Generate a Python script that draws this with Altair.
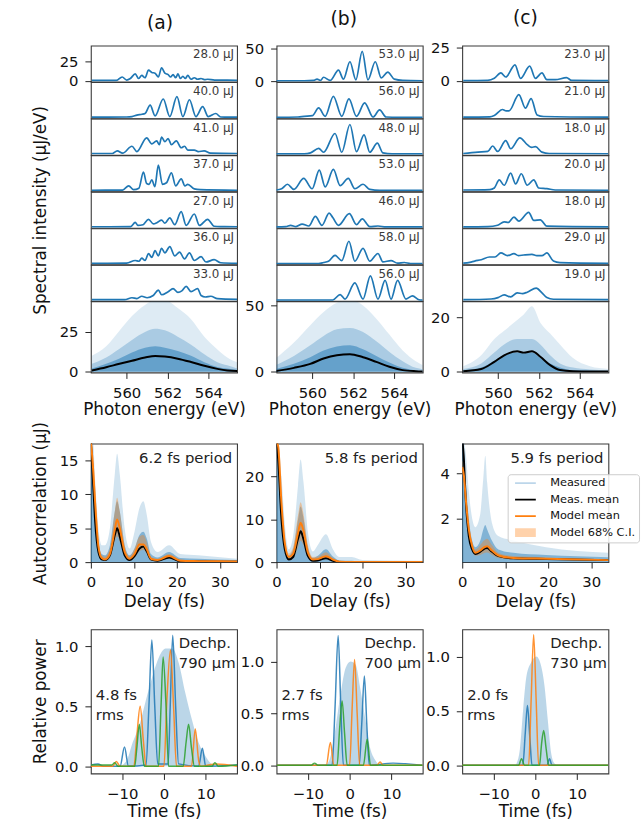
import altair as alt
import pandas as pd

# ---------------------------------------------------------------------------
# Single-shot spectra: (photon energy in eV, spectral intensity in uJ/eV)
# ---------------------------------------------------------------------------
SHOT_LABELS_A = ["28.0 μJ", "40.0 μJ", "41.0 μJ", "37.0 μJ", "27.0 μJ", "36.0 μJ", "33.0 μJ"]
SHOT_LABELS_B = ["53.0 μJ", "56.0 μJ", "48.0 μJ", "53.0 μJ", "46.0 μJ", "58.0 μJ", "56.0 μJ"]
SHOT_LABELS_C = ["23.0 μJ", "21.0 μJ", "18.0 μJ", "20.0 μJ", "18.0 μJ", "29.0 μJ", "19.0 μJ"]

spec_a1 = [(558.3, 0.5), (559.5, 0.5), (559.78, 5), (560.0, 1), (560.18, 3), (560.42, 9), (560.58, 3),
           (560.74, 7), (560.9, 4), (561.07, 14), (561.23, 11), (561.39, 10), (561.55, 5), (561.71, 17),
           (561.87, 10), (562.03, 8), (562.15, 5), (562.27, 8), (562.4, 4), (562.51, 9), (562.63, 3),
           (562.75, 6), (562.87, 3), (562.99, 7), (563.15, 2), (563.31, 4), (563.47, 2), (563.64, 3),
           (563.8, 1.5), (563.96, 2), (564.3, 1), (564.92, 1), (565.4, 0.5)]
spec_a2 = [(558.3, 0.3), (560.0, 0.5), (560.26, 1), (560.5, 3), (560.75, 4), (560.9, 5), (561.15, 16),
           (561.39, 2), (561.79, 24), (562.11, 1), (562.46, 27), (562.75, 1), (563.07, 23), (563.39, 1),
           (563.72, 14), (563.99, 1), (564.36, 5), (564.6, 0.5), (565.4, 0.3)]
spec_a3 = [(558.3, 0.5), (559.3, 0.5), (559.54, 4), (559.8, 1), (560.26, 10), (560.5, 3), (560.98, 21),
           (561.23, 13), (561.47, 17), (561.6, 12), (561.71, 22), (561.87, 16), (562.03, 20), (562.19, 12),
           (562.43, 17), (562.67, 8), (562.83, 10), (562.99, 5), (563.31, 5), (563.5, 3), (563.79, 4),
           (564.1, 1), (565.4, 0.5)]
spec_a4 = [(558.3, 0.3), (559.8, 0.5), (560.1, 6), (560.34, 1), (560.6, 3), (560.82, 24), (560.98, 9),
           (561.1, 8), (561.23, 14), (561.38, 5), (561.55, 33), (561.75, 8), (561.95, 10), (562.19, 23),
           (562.4, 6), (562.67, 15), (562.85, 6), (562.99, 8), (563.31, 2), (563.6, 1), (565.4, 0.3)]
spec_a5 = [(558.3, 0.3), (560.2, 0.5), (560.42, 6), (560.55, 2), (560.8, 3), (561.07, 10), (561.31, 4),
           (561.5, 6), (561.71, 9), (561.87, 5), (562.11, 12), (562.35, 3), (562.67, 20), (562.91, 2),
           (563.31, 17), (563.56, 2), (563.96, 10), (564.28, 1), (564.6, 0.5), (565.4, 0.3)]
spec_a6 = [(558.3, 0.3), (560.0, 0.5), (560.42, 4), (560.6, 3), (560.74, 7), (560.9, 4), (561.07, 13),
           (561.23, 8), (561.39, 17), (561.55, 10), (561.71, 20), (561.87, 14), (562.11, 22), (562.35, 10),
           (562.59, 15), (562.83, 6), (563.07, 14), (563.31, 4), (563.64, 9), (563.88, 2), (564.28, 5),
           (564.6, 1), (565.4, 0.3)]
spec_a7 = [(558.3, 0.5), (559.9, 0.5), (560.26, 3), (560.5, 2), (560.74, 5), (561.0, 3), (561.3, 6),
           (561.55, 13), (561.71, 7), (562.03, 11), (562.27, 15), (562.51, 10), (562.7, 12), (562.91, 18),
           (563.15, 11), (563.47, 15), (563.64, 6), (563.85, 4), (564.12, 5), (564.44, 2), (565.4, 1)]

spec_b1 = [(558.2, 0.5), (559.6, 0.5), (560.07, 1), (560.23, 3), (560.4, 1), (560.55, 6), (560.87, 1),
           (561.28, 17), (561.52, 3), (561.84, 30), (562.13, 2), (562.44, 46), (562.72, 2), (563.08, 30),
           (563.37, 5), (563.69, 14), (564.01, 3), (564.42, 1), (565.4, 0.5)]
spec_b2 = [(558.2, 0.5), (559.3, 1), (559.6, 2), (560.0, 3), (560.31, 15), (560.63, 2), (561.03, 33),
           (561.44, 2), (561.79, 29), (562.16, 2), (562.56, 23), (562.97, 1), (563.29, 12), (563.61, 1),
           (564.2, 0.5), (565.4, 0.5)]
spec_b3 = [(558.2, 0.5), (559.6, 0.5), (559.91, 2), (560.31, 9), (560.55, 3), (561.11, 32), (561.44, 3),
           (561.84, 46), (562.16, 4), (562.53, 30), (562.81, 3), (563.18, 17), (563.45, 2), (563.9, 0.5),
           (565.4, 0.5)]
spec_b4 = [(558.2, 1), (558.5, 3), (558.78, 10), (559.1, 2), (559.58, 19), (559.99, 3), (560.34, 32),
           (560.63, 6), (561.03, 33), (561.36, 8), (561.76, 19), (562.08, 3), (562.48, 10), (562.81, 2),
           (563.3, 0.5), (565.4, 0.5)]
spec_b5 = [(558.2, 0.5), (558.7, 1), (558.94, 3), (559.2, 1), (559.5, 5), (559.83, 2), (560.15, 17),
           (560.47, 3), (560.82, 22), (561.0, 15), (561.28, 3), (561.81, 21), (562.16, 4), (562.44, 13),
           (562.81, 1), (563.21, 2), (563.6, 0.5), (565.4, 0.5)]
spec_b6 = [(558.2, 0.5), (560.3, 0.5), (560.55, 2), (560.79, 4), (561.11, 13), (561.44, 5), (561.79, 35),
           (562.08, 4), (562.48, 24), (562.81, 4), (563.21, 16), (563.45, 3), (563.85, 5), (564.17, 1),
           (564.5, 2), (564.8, 0.5), (565.4, 0.5)]
spec_b7 = [(558.2, 0.5), (561.0, 0.5), (561.36, 9), (561.6, 2), (562.08, 27), (562.48, 2), (562.84, 38),
           (563.21, 2), (563.56, 31), (563.85, 2), (564.17, 31), (564.58, 2), (564.9, 7), (565.22, 1),
           (565.4, 0.5)]

spec_c1 = [(558.3, 0.3), (559.5, 0.5), (559.82, 2), (560.14, 6), (560.38, 3), (560.83, 12), (561.1, 2),
           (561.55, 11), (561.83, 2), (562.15, 6), (562.39, 1), (562.8, 1), (563.35, 2.5), (563.6, 0.5),
           (565.4, 0.3)]
spec_c2 = [(558.3, 0.3), (559.6, 0.5), (559.82, 1.5), (560.22, 6), (560.4, 5), (560.54, 5), (561.02, 17),
           (561.34, 7), (561.62, 14), (561.91, 2), (562.23, 0.8), (565.4, 0.3)]
spec_c3 = [(558.3, 0.5), (559.02, 1.5), (559.5, 2), (559.74, 6), (559.98, 2), (560.38, 10), (560.62, 4),
           (561.07, 12), (561.43, 7), (561.65, 5), (561.83, 5.5), (562.15, 1.5), (562.5, 0.5), (565.4, 0.3)]
spec_c4 = [(558.3, 0.5), (559.6, 0.8), (559.82, 2), (560.06, 8), (560.3, 4), (560.62, 13), (560.86, 5),
           (561.14, 12.5), (561.43, 4), (561.75, 8), (561.99, 2), (562.39, 1.5), (562.8, 0.5), (565.4, 0.3)]
spec_c5 = [(558.3, 0.3), (559.5, 0.5), (559.98, 1.5), (560.3, 4), (560.5, 3.5), (560.78, 7.5), (561.02, 4.5),
           (561.5, 11), (561.75, 5), (562.07, 5.5), (562.39, 0.8), (565.4, 0.3)]
spec_c6 = [(558.3, 0.5), (558.62, 1), (558.86, 2), (559.18, 3), (559.58, 5), (559.85, 5), (560.14, 8),
           (560.46, 6), (560.78, 7.5), (561.0, 6), (561.26, 6.5), (561.66, 7), (561.9, 6), (562.15, 6),
           (562.39, 8), (562.71, 2), (563.03, 0.8), (565.4, 0.3)]
spec_c7 = [(558.3, 0.5), (559.66, 1), (560.0, 2), (560.3, 4), (560.62, 2.5), (560.94, 5.5), (561.2, 5),
           (561.43, 6), (561.87, 9), (562.15, 5.5), (562.39, 2), (562.71, 0.8), (565.4, 0.5)]

# Ensemble of all shots: outer envelope, inner envelopes and mean spectrum
ens_a_energy = [558.3, 559.0, 559.6, 560.26, 560.9, 561.4, 561.87, 562.5, 563.15, 563.8, 564.44, 564.92, 565.4]
ens_a_max = [10, 16, 25, 35, 42, 45, 45, 40, 33, 22, 14, 9, 6]
ens_a_mid = [5, 9, 14, 20, 25, 27, 26, 22, 17, 11, 6, 4, 2]
ens_a_core = [2, 5, 8, 12, 15, 16, 15, 13, 10, 6, 3, 2, 1]
ens_a_mean = [0.8, 2.8, 4.8, 6.9, 8.9, 9.9, 9.5, 8.2, 6.1, 3.7, 1.8, 0.8, 0.4]

ens_b_energy = [558.2, 559.1, 559.9, 560.55, 561.2, 561.84, 562.48, 563.13, 563.77, 564.42, 565.06, 565.4]
ens_b_max = [10, 22, 35, 45, 52, 54, 50, 40, 28, 16, 8, 5]
ens_b_mid = [5, 12, 20, 27, 32, 33, 30, 23, 15, 8, 3, 2]
ens_b_core = [2, 6, 11, 16, 19, 20, 17, 12, 7, 3, 1, 0.5]
ens_b_mean = [0.5, 3, 6, 10, 12.5, 13.3, 11, 7.5, 3.8, 1.3, 0.5, 0.3]

ens_c_energy = [558.3, 559.18, 559.82, 560.3, 560.94, 561.26, 561.66, 562.07, 562.55, 563.03, 563.67, 564.5, 565.4]
ens_c_max = [2, 6, 12, 15, 19, 21, 24, 18, 14, 10, 5, 2, 1]
ens_c_mid = [1, 3, 7, 10, 12, 12, 12, 10, 6, 3, 1.5, 0.8, 0.5]
ens_c_core = [0.5, 1.5, 4, 6, 7, 7, 7, 5, 3, 1.5, 0.5, 0.3, 0.2]
ens_c_mean = [0.2, 1.0, 3.6, 6.0, 7.5, 7.0, 7.5, 5.5, 2.4, 0.6, 0.2, 0.1, 0.1]

# ---------------------------------------------------------------------------
# Autocorrelation vs delay (fs), in uJ
# ---------------------------------------------------------------------------
ac_a_delay = [0, 0.5, 1.0, 1.76, 2.52, 3.28, 4.43, 5.57, 6.1, 6.72, 7.86, 9.0, 10.15, 11.3, 12.2, 13.0,
              13.97, 15.5, 18.2, 20.8, 25, 34]
ac_a_meas_max = [18, 18, 12, 5, 2.5, 2.5, 5, 13, 16, 13, 5, 2, 4.5, 8, 9, 7, 3, 1.5, 2.5, 1.2, 1.0, 0.5]
ac_a_meas_core = [18, 15, 9, 3, 1.2, 1.0, 2.5, 7.5, 9, 7.5, 2.5, 1.0, 2, 4, 4.5, 3.5, 1.2, 0.7, 1.5, 0.6, 0.5, 0.3]
ac_a_ci_lo = [17, 12, 6.5, 1.5, 0.3, 0.2, 0.6, 3.0, 3.8, 3.0, 0.8, 0.2, 0.6, 1.6, 1.8, 1.3, 0.2, 0.1, 0.5, 0.05, 0.05, 0]
ac_a_ci_hi = [18, 16, 11, 3.5, 1.0, 0.8, 2.0, 7.5, 9.5, 7.5, 2.5, 0.9, 2.0, 3.8, 4.0, 3.0, 0.8, 0.5, 1.2, 0.4, 0.2, 0.1]
ac_a_meas_mean = [18, 12, 6, 1.5, 0.4, 0.3, 1.0, 4.0, 5.0, 3.8, 1.0, 0.3, 0.9, 2.0, 2.3, 1.6, 0.4, 0.2, 0.7, 0.15, 0.1, 0.05]
ac_a_model_mean = [18, 14, 8.7, 2.3, 0.6, 0.4, 1.2, 4.8, 6.3, 5.0, 1.5, 0.5, 1.2, 2.6, 2.6, 1.9, 0.5, 0.3, 0.9, 0.2, 0.15, 0.1]

ac_b_delay = [0, 0.38, 1.15, 1.92, 2.85, 3.85, 5.0, 5.6, 6.23, 7.3, 8.46, 9.6, 11.5, 13.1, 14.6, 17.5, 20, 34]
ac_b_meas_max = [28, 28, 20, 9, 3, 6, 18, 24, 19, 7, 2.5, 4, 6.5, 3, 1.2, 1.2, 0.5, 0.3]
ac_b_meas_core = [28, 26, 14, 5, 1.5, 3, 10, 13, 10.5, 3.5, 1.0, 1.5, 3, 1.3, 0.4, 0.3, 0.1, 0.1]
ac_b_ci_lo = [27, 25, 11, 3, 0.5, 0.9, 3.5, 5, 4, 1.0, 0.2, 0.3, 0.8, 0.2, 0.02, 0.02, 0.02, 0]
ac_b_ci_hi = [28, 28, 16, 6, 2, 3.5, 11, 14, 11.5, 4, 1.2, 1.3, 2.3, 1.0, 0.3, 0.1, 0.1, 0.05]
ac_b_meas_mean = [28, 24, 10, 3, 0.6, 1.2, 5.5, 7.2, 5.5, 1.4, 0.3, 0.4, 0.9, 0.3, 0.05, 0.03, 0.02, 0.02]
ac_b_model_mean = [28, 27, 13.7, 4.5, 1.2, 1.9, 6.8, 9.2, 7.5, 2.2, 0.6, 0.7, 1.4, 0.6, 0.1, 0.05, 0.05, 0.02]

ac_c_delay = [0, 0.4, 0.77, 1.53, 2.3, 3.06, 4.2, 4.9, 5.36, 5.8, 6.9, 8.4, 11.9, 19.5, 34]
ac_c_meas_max = [5.4, 5.4, 5.0, 3.2, 2.0, 1.6, 2.2, 3.8, 4.8, 3.6, 1.8, 1.2, 1.0, 0.7, 0.45]
ac_c_meas_core = [5.4, 5.0, 3.8, 2.0, 1.0, 0.7, 1.0, 1.5, 1.7, 1.5, 1.0, 0.6, 0.45, 0.35, 0.25]
ac_c_ci_lo = [4.0, 3.5, 2.6, 1.2, 0.55, 0.32, 0.35, 0.42, 0.45, 0.46, 0.35, 0.22, 0.15, 0.13, 0.08]
ac_c_ci_hi = [4.6, 4.3, 3.4, 1.8, 0.95, 0.6, 0.8, 0.98, 1.05, 1.08, 0.8, 0.45, 0.3, 0.24, 0.17]
ac_c_meas_mean = [5.6, 4.6, 3.0, 1.2, 0.6, 0.4, 0.5, 0.6, 0.65, 0.66, 0.5, 0.3, 0.2, 0.17, 0.12]
ac_c_model_mean = [4.3, 3.9, 3.0, 1.5, 0.75, 0.45, 0.55, 0.67, 0.72, 0.74, 0.55, 0.33, 0.22, 0.18, 0.12]

PERIOD_NOTES = ["6.2 fs period", "5.8 fs period", "5.9 fs period"]
LEGEND_SERIES = ["Measured", "Meas. mean", "Model mean", "Model 68% C.I."]

# ---------------------------------------------------------------------------
# Temporal power profiles: (time in fs, relative power)
# ---------------------------------------------------------------------------
pulse_a_band = [(-17.5, 0), (-11, 0), (-9.06, 0.04), (-7.48, 0.2), (-5.9, 0.34), (-4.33, 0.55), (-2.76, 0.75),
                (-1.18, 0.91), (0.39, 0.98), (1.97, 0.98), (3.54, 0.86), (5.12, 0.61), (6.69, 0.39),
                (8.27, 0.2), (9.84, 0.09), (11.4, 0.02), (13, 0), (17.5, 0)]
pulse_a_blue = [(-17.5, 0.01), (-15.8, 0.02), (-14.5, 0.0), (-10.5, 0.0), (-9.45, 0.16), (-8.5, 0.0),
                (-4.3, 0.01), (-3.6, 0.5), (-2.9, 1.05), (-2.2, 0.5), (-1.5, 0.02), (1.0, 0.02), (1.5, 0.5),
                (2.1, 1.09), (2.8, 0.5), (3.5, 0.02), (8.3, 0.0), (9.2, 0.15), (10.0, 0.0), (17.5, 0.01)]
pulse_a_orange = [(-17.5, 0), (-12.3, 0), (-11.4, 0.04), (-10.5, 0), (-7.2, 0.0), (-6.5, 0.25), (-5.7, 0.5),
                  (-4.9, 0.2), (-4.3, 0.0), (0.0, 0.0), (0.7, 0.55), (1.57, 0.97), (2.3, 0.5), (3.0, 0.0),
                  (6.6, 0.0), (7.5, 0.31), (8.3, 0.05), (8.8, 0.0), (12.5, 0.02), (17.5, 0)]
pulse_a_green = [(-17.5, 0.01), (-12.5, 0.01), (-11.8, 0.03), (-11.0, 0.0), (-7.0, 0.0), (-6.5, 0.15),
                 (-5.9, 0.35), (-5.3, 0.15), (-4.7, 0.0), (-1.3, 0.0), (-0.7, 0.5), (-0.2, 0.91), (0.5, 0.5),
                 (1.1, 0.0), (4.6, 0.0), (5.3, 0.2), (5.9, 0.35), (6.6, 0.15), (7.3, 0.0), (11.5, 0.0),
                 (12.2, 0.03), (13, 0.0), (17.5, 0.01)]

pulse_b_band = [(-17.5, 0), (-6.5, 0), (-5.25, 0.02), (-4.47, 0.1), (-3.29, 0.38), (-2.12, 0.7), (-0.94, 0.94),
                (0.24, 1.0), (1.41, 0.97), (2.59, 0.73), (3.76, 0.44), (4.94, 0.16), (6.12, 0.05), (7.3, 0),
                (17.5, 0)]
pulse_b_blue = [(-17.5, 0), (-4.2, 0), (-3.5, 0.55), (-2.75, 1.25), (-2.1, 0.55), (-1.5, 0.0), (2.3, 0.0),
                (2.9, 0.4), (3.53, 0.86), (4.1, 0.4), (4.7, 0.0), (10.4, 0.02), (17.5, 0)]
pulse_b_orange = [(-17.5, 0), (-5.6, 0), (-4.6, 0.22), (-3.8, 0.0), (0.0, 0.0), (0.6, 0.55), (1.18, 1.02),
                  (1.8, 0.5), (2.4, 0.0), (6.5, 0.0), (7.3, 0.03), (8.0, 0), (17.5, 0)]
pulse_b_green = [(-17.5, 0), (-9.2, 0), (-8.4, 0.02), (-7.6, 0), (-3.0, 0.0), (-2.4, 0.35), (-1.8, 0.62),
                 (-1.2, 0.3), (-0.6, 0.0), (3.3, 0.0), (4.2, 0.25), (5.0, 0.0), (17.5, 0)]

pulse_c_band = [(-17.5, 0), (-5, 0), (-4.47, 0.02), (-3.69, 0.15), (-2.9, 0.52), (-2.12, 0.82), (-0.94, 0.95),
                (0.24, 1.0), (1.41, 0.91), (2.2, 0.73), (2.98, 0.42), (3.76, 0.12), (4.55, 0.02), (5.5, 0),
                (17.5, 0)]
pulse_c_blue = [(-17.5, 0), (-3.0, 0), (-2.4, 0.3), (-1.88, 0.55), (-1.3, 0.25), (-0.8, 0.0), (2.8, 0.0),
                (3.4, 0.06), (4.0, 0), (17.5, 0)]
pulse_c_orange = [(-17.5, 0), (-1.6, 0), (-1.0, 0.6), (-0.4, 1.2), (0.2, 0.6), (0.8, 0.0), (17.5, 0)]
pulse_c_green = [(-17.5, 0), (-4.0, 0), (-3.3, 0.06), (-2.6, 0), (1.0, 0), (1.5, 0.2), (2.0, 0.32),
                 (2.6, 0.15), (3.2, 0.0), (17.5, 0)]

RMS_NOTES = ["4.8 fs\nrms", "2.7 fs\nrms", "2.0 fs\nrms"]
DECHIRP_NOTES = ["Dechp.\n790 μm", "Dechp.\n700 μm", "Dechp.\n730 μm"]

# ---------------------------------------------------------------------------
# Styling
# ---------------------------------------------------------------------------
FONT = "DejaVu Sans"
BLUE = "#1f77b4"
ORANGE = "#ff7f0e"
GREEN = "#2ca02c"
INK = "#111111"
W = 148
SMALL_H = 36.6
ENS_H = 72
AC_H = 120
TP_H = 146
GAP_1 = 72
GAP_2 = 68
TITLE_X = -42
E_DOM = [558.25, 565.4]


def note(text, x, y, align, size, color="#222222"):
    return alt.Chart(pd.DataFrame({"label": [text]})).mark_text(
        align=align, baseline="top", font=FONT, fontSize=size, color=color,
        lineBreak="\n", lineHeight=20,
    ).encode(x=alt.value(x), y=alt.value(y), text="label:N")


def spacer(h):
    return alt.Chart(pd.DataFrame({"label": [""]})).mark_text().encode(
        text="label:N"
    ).properties(width=W, height=h, view=alt.ViewBackground(stroke="transparent"))


def shot_panel(pts, label, ydom, yticks=None, ytitle=None, head=None, dx=0):
    df = pd.DataFrame(pts, columns=["E", "I"])
    if yticks is not None:
        yaxis = alt.Axis(values=yticks, title=None)
    elif ytitle is not None:
        yaxis = alt.Axis(labels=False, ticks=False, title=ytitle, titleX=TITLE_X)
    else:
        yaxis = None
    line = alt.Chart(df).mark_line(
        color=BLUE, strokeWidth=1.7, interpolate="monotone", clip=True
    ).encode(
        x=alt.X("E:Q", scale=alt.Scale(domain=E_DOM, nice=False, zero=False), axis=None),
        y=alt.Y("I:Q", scale=alt.Scale(domain=ydom, nice=False, zero=False), axis=yaxis),
    )
    chart = alt.layer(line, note(label, W - 3, 4, "right", 12, "#3a3a3a")).properties(
        width=W, height=SMALL_H)
    if head:
        chart = chart.properties(title=alt.TitleParams(head, anchor="middle", dx=dx))
    return chart


def ensemble_panel(energy, vmax, vmid, vcore, vmean, ydom, yticks):
    df = pd.DataFrame({"E": energy, "vmax": vmax, "vmid": vmid, "vcore": vcore, "vmean": vmean})
    x = alt.X("E:Q", scale=alt.Scale(domain=E_DOM, nice=False, zero=False),
              axis=alt.Axis(values=[560, 562, 564], title="Photon energy (eV)"))
    ysc = alt.Scale(domain=ydom, nice=False, zero=False)
    yax = alt.Axis(values=yticks, title=None)
    base = alt.Chart(df)
    layers = []
    for field, op in (("vmax", 0.15), ("vmid", 0.27), ("vcore", 0.5)):
        layers.append(base.mark_area(color=BLUE, opacity=op, interpolate="monotone", clip=True).encode(
            x=x, y=alt.Y(f"{field}:Q", scale=ysc, axis=yax), y2=alt.datum(0)))
    layers.append(base.mark_line(color="black", strokeWidth=2, interpolate="monotone", clip=True).encode(
        x=x, y=alt.Y("vmean:Q", scale=ysc, axis=yax)))
    return alt.layer(*layers).properties(width=W, height=ENS_H)


def autocorr_panel(delay, mmax, mcore, lo, hi, mmean, model, ydom, yticks, period, ytitle=None, legend=False):
    df = pd.DataFrame({"t": delay, "mmax": mmax, "mcore": mcore, "lo": lo, "hi": hi})
    x = alt.X("t:Q", scale=alt.Scale(domain=[0, 34], nice=False, zero=False),
              axis=alt.Axis(values=[0, 10, 20, 30], title="Delay (fs)", titlePadding=4))
    ysc = alt.Scale(domain=ydom, nice=False, zero=False)
    if ytitle:
        yax = alt.Axis(values=yticks, title=ytitle, titleX=TITLE_X)
    else:
        yax = alt.Axis(values=yticks, title=None)
    base = alt.Chart(df)
    layers = [
        base.mark_area(color=BLUE, opacity=0.2, interpolate="monotone", clip=True).encode(
            x=x, y=alt.Y("mmax:Q", scale=ysc, axis=yax), y2=alt.datum(0)),
        base.mark_area(color=BLUE, opacity=0.45, interpolate="monotone", clip=True).encode(
            x=x, y=alt.Y("mcore:Q", scale=ysc, axis=yax), y2=alt.datum(0)),
        base.mark_area(color=ORANGE, opacity=0.35, interpolate="monotone", clip=True).encode(
            x=x, y=alt.Y("hi:Q", scale=ysc, axis=yax), y2="lo:Q"),
    ]
    leg = None
    if legend:
        leg = alt.Legend(
            title=None, orient="none", legendX=46, legendY=31,
            fillColor="rgba(255,255,255,0.85)", strokeColor="#cccccc", cornerRadius=3, padding=3,
            symbolType="stroke", symbolSize=441, clipHeight=12, rowPadding=4.7, labelOffset=10,
            labelFont=FONT, labelFontSize=11.5, labelColor=INK,
        )
    cscale = alt.Scale(domain=LEGEND_SERIES, range=["#bcd6ea", "black", ORANGE, "#ffd2ab"])
    wscale = alt.Scale(type="ordinal", domain=LEGEND_SERIES, range=[2, 2, 2, 9])
    for values, name in ((mmean, "Meas. mean"), (model, "Model mean")):
        ldf = pd.DataFrame({"t": delay, "v": values, "series": name})
        layers.append(alt.Chart(ldf).mark_line(interpolate="monotone", clip=True).encode(
            x=x, y=alt.Y("v:Q", scale=ysc, axis=yax),
            color=alt.Color("series:N", scale=cscale, legend=leg),
            strokeWidth=alt.StrokeWidth("series:N", scale=wscale, legend=leg),
        ))
    layers.append(note(period, W - 5, 8, "right", 15))
    return alt.layer(*layers).properties(width=W, height=AC_H)


def pulse_panel(band, blue, orange, green, ydom, rms, dechirp, ytitle=None):
    x = alt.X("t:Q", scale=alt.Scale(domain=[-17.5, 17.5], nice=False, zero=False),
              axis=alt.Axis(values=[-10, 0, 10], title="Time (fs)", titlePadding=3))
    ysc = alt.Scale(domain=ydom, nice=False, zero=False)
    if ytitle:
        yax = alt.Axis(values=[0, 0.5, 1.0], format=".1f", title=ytitle, titleX=TITLE_X)
    else:
        yax = alt.Axis(values=[0, 0.5, 1.0], format=".1f", title=None)
    layers = [alt.Chart(pd.DataFrame(band, columns=["t", "p"])).mark_area(
        color=BLUE, opacity=0.3, interpolate="monotone", clip=True).encode(
        x=x, y=alt.Y("p:Q", scale=ysc, axis=yax), y2=alt.datum(0))]
    for pts, col in ((blue, BLUE), (orange, ORANGE), (green, GREEN)):
        layers.append(alt.Chart(pd.DataFrame(pts, columns=["t", "p"])).mark_line(
            color=col, strokeWidth=1.5, opacity=0.85, interpolate="monotone", clip=True).encode(
            x=x, y=alt.Y("p:Q", scale=ysc, axis=yax)))
    layers.append(note(dechirp, 89, 7, "left", 15))
    layers.append(note(rms, 5, 60, "left", 15))
    return alt.layer(*layers).properties(width=W, height=TP_H)


def column(head, dx, shots, labels, ydom_shot, ticks_shot, ensemble, ydom_ens, ticks_ens,
           ac_panel, pulse, with_titles):
    cells = []
    for i, (pts, lab) in enumerate(zip(shots, labels)):
        cells.append(shot_panel(
            pts, lab, ydom_shot,
            yticks=ticks_shot if i == 0 else None,
            ytitle="Spectral intensity (μJ/eV)" if (with_titles and i == 4) else None,
            head=head if i == 0 else None, dx=dx,
        ))
    cells.append(ensemble_panel(*ensemble, ydom_ens, ticks_ens))
    cells.append(spacer(GAP_1))
    cells.append(ac_panel)
    cells.append(spacer(GAP_2))
    cells.append(pulse)
    return cells


col_a = column(
    "(a)", -4,
    [spec_a1, spec_a2, spec_a3, spec_a4, spec_a5, spec_a6, spec_a7], SHOT_LABELS_A,
    [-1.2, 46], [0, 25],
    (ens_a_energy, ens_a_max, ens_a_mid, ens_a_core, ens_a_mean), [-0.5, 44.2], [0, 25],
    autocorr_panel(ac_a_delay, ac_a_meas_max, ac_a_meas_core, ac_a_ci_lo, ac_a_ci_hi,
                   ac_a_meas_mean, ac_a_model_mean, [0, 17.5], [0, 5, 10, 15], PERIOD_NOTES[0],
                   ytitle="Autocorrelation (μJ)"),
    pulse_panel(pulse_a_band, pulse_a_blue, pulse_a_orange, pulse_a_green, [-0.06, 1.14],
                RMS_NOTES[0], DECHIRP_NOTES[0], ytitle="Relative power"),
    True,
)
col_b = column(
    "(b)", -6,
    [spec_b1, spec_b2, spec_b3, spec_b4, spec_b5, spec_b6, spec_b7], SHOT_LABELS_B,
    [-1, 55], [0, 50],
    (ens_b_energy, ens_b_max, ens_b_mid, ens_b_core, ens_b_mean), [-0.5, 53], [0, 50],
    autocorr_panel(ac_b_delay, ac_b_meas_max, ac_b_meas_core, ac_b_ci_lo, ac_b_ci_hi,
                   ac_b_meas_mean, ac_b_model_mean, [0, 27.7], [0, 10, 20], PERIOD_NOTES[1]),
    pulse_panel(pulse_b_band, pulse_b_blue, pulse_b_orange, pulse_b_green, [-0.08, 1.31],
                RMS_NOTES[1], DECHIRP_NOTES[1]),
    False,
)
col_c = column(
    "(c)", -10,
    [spec_c1, spec_c2, spec_c3, spec_c4, spec_c5, spec_c6, spec_c7], SHOT_LABELS_C,
    [-0.5, 26.2], [0, 25],
    (ens_c_energy, ens_c_max, ens_c_mid, ens_c_core, ens_c_mean), [-0.3, 25.8], [0, 20],
    autocorr_panel(ac_c_delay, ac_c_meas_max, ac_c_meas_core, ac_c_ci_lo, ac_c_ci_hi,
                   ac_c_meas_mean, ac_c_model_mean, [0.03, 5.35], [2, 4], PERIOD_NOTES[2],
                   legend=True),
    pulse_panel(pulse_c_band, pulse_c_blue, pulse_c_orange, pulse_c_green, [-0.075, 1.25],
                RMS_NOTES[2], DECHIRP_NOTES[2]),
    False,
)

# row-major grid: three panels per row
cells = [c for row in zip(col_a, col_b, col_c) for c in row]

chart = alt.concat(
    *cells, columns=3, spacing={"row": 0, "column": 40}, bounds="flush"
).resolve_scale(
    color="independent", strokeWidth="independent"
).properties(
    padding={"left": 31, "top": 3, "right": 0, "bottom": 0}
).configure_view(
    stroke="#3a3a3a", strokeWidth=1.1
).configure_axis(
    domain=False, grid=False, tickSize=6, tickColor="#222222", tickWidth=1, labelPadding=7,
    labelFont=FONT, labelFontSize=15, labelColor=INK, labelFlush=False, labelOverlap=False,
    titleFont=FONT, titleFontSize=17, titleFontWeight="normal", titleColor=INK, titlePadding=2,
).configure_title(
    font=FONT, fontSize=19, fontWeight="normal", color=INK, offset=13,
)

chart.save("out.html", embed_options={"renderer": "svg", "actions": False})
